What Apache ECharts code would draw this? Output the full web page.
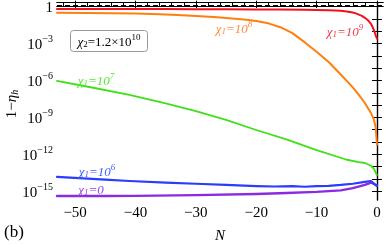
<!DOCTYPE html>
<html><head><meta charset="utf-8">
<script src="https://cdn.jsdelivr.net/npm/echarts@6/dist/echarts.min.js"></script>
<style>html,body{margin:0;padding:0;background:#fff}#c{width:385px;height:245px}</style>
</head><body><div id="c"></div>
<script>
// x = N, y = log10(1 - eta_h)
const xTicks = [-50, -40, -30, -20, -10, 0];
const xMinorTicks = [-52, -48, -46, -44, -42, -38, -36, -34, -32, -28, -26, -24, -22, -18, -16, -14, -12, -8, -6, -4, -2];
const yTicks = [0, -1, -2, -3, -4, -5, -6, -7, -8, -9, -10, -11, -12, -13, -14, -15];
const yLabelTicks = [0, -3, -6, -9, -12, -15];

const dashN = [-53, 1];
const dashLog = [0.08, 0.08];

const redN =   [-53, -45, -40, -35, -30, -25, -20, -16, -12, -10, -8, -7, -6, -5, -4.5, -4, -3.5, -3, -2.5, -2, -1.5, -1, -0.7, -0.4, -0.2, 0];
const redLog = [-0.184, -0.189, -0.194, -0.198, -0.203, -0.213, -0.223, -0.233, -0.252, -0.267, -0.291, -0.311, -0.340, -0.389, -0.428, -0.476, -0.545, -0.642, -0.750, -0.906, -1.101, -1.394, -1.667, -2.057, -2.350, -2.594];

const orangeN =   [-53, -48, -44, -40, -36, -33, -30, -27, -24, -22, -20, -18, -16, -14, -12, -10, -8, -6, -4, -3, -2, -1, -0.5, -0.2, 0];
const orangeLog = [-0.486, -0.506, -0.525, -0.554, -0.613, -0.681, -0.759, -0.847, -0.964, -1.052, -1.159, -1.355, -1.667, -2.154, -2.886, -3.667, -4.496, -5.520, -6.564, -7.179, -7.832, -8.642, -9.179, -9.862, -11.228];

const greenN =   [-53, -47, -41, -35, -30, -25, -20, -15, -10, -5, -3, -2, -1, -0.5, 0];
const greenLog = [-6.037, -6.593, -7.179, -7.862, -8.496, -9.208, -10.028, -10.789, -11.667, -12.447, -12.642, -12.711, -12.935, -13.179, -13.686];

const blueN =   [-53, -45, -41, -35, -30, -25, -20, -17, -14, -12, -10, -8, -6, -4, -2, -1, 0];
const blueLog = [-13.842, -14.057, -14.174, -14.301, -14.398, -14.496, -14.593, -14.622, -14.593, -14.642, -14.593, -14.564, -14.496, -14.398, -14.252, -14.174, -14.593];

const purpleN =   [-53, -45, -40, -30, -20, -15, -10, -6, -4, -2, -1, 0];
const purpleLog = [-15.393, -15.393, -15.384, -15.325, -15.228, -15.150, -15.062, -14.935, -14.759, -14.496, -14.301, -14.545];

function pairs(xs, ys) { return xs.map((x, i) => [x, ys[i]]); }

const serif = '"Liberation Serif", "DejaVu Serif", serif';
const chart = echarts.init(document.getElementById('c'), null, {renderer: 'canvas'});

function lineSeries(xs, ys, color, width) {
  return {type: 'line', data: pairs(xs, ys), symbol: 'none', smooth: false,
          lineStyle: {color: color, width: width, join: 'round', cap: 'round'}, silent: true, clip: true, z: 3};
}

const baseAxisLine = {show: true, lineStyle: {color: '#000', width: 1.2}};
const yMin = -15.72, yMax = 0.38;

function labelRich(color) {
  return {
    i: {fontFamily: serif, fontStyle: 'italic', fontSize: 13, color: color, lineHeight: 16, verticalAlign: 'bottom'},
    sub: {fontFamily: serif, fontStyle: 'italic', fontSize: 9, color: color, lineHeight: 9, verticalAlign: 'bottom'},
    n: {fontFamily: serif, fontStyle: 'italic', fontSize: 13, color: color, lineHeight: 16, verticalAlign: 'bottom'},
    sup: {fontFamily: serif, fontStyle: 'italic', fontSize: 9, color: color, lineHeight: 9, verticalAlign: 'top'}
  };
}
function annot(x, y, text, color) {
  return {type: 'text', x: x, y: y, z: 10,
    style: {text: text, rich: labelRich(color), align: 'center', verticalAlign: 'middle', fill: color}};
}

chart.setOption({
  animation: false,
  backgroundColor: '#fff',
  grid: {left: 57, right: 2, top: 2, bottom: 45, containLabel: false, outerBoundsMode: 'none', show: false},
  xAxis: [
    {type: 'value', position: 'bottom', min: -53, max: 1, axisLine: baseAxisLine,
     axisTick: {show: true, inside: true, length: 6, customValues: xTicks, lineStyle: {color: '#000', width: 1}},
     axisLabel: {show: true, customValues: xTicks, margin: 6, fontFamily: serif, fontSize: 15, color: '#000',
                 formatter: v => String(v).replace('-', '\u2212')},
     splitLine: {show: false}},
    {type: 'value', position: 'bottom', min: -53, max: 1, axisLine: baseAxisLine,
     axisTick: {show: true, inside: true, length: 3, customValues: xMinorTicks, lineStyle: {color: '#000', width: 1}},
     axisLabel: {show: false}, splitLine: {show: false}},
    {type: 'value', position: 'top', min: -53, max: 1, axisLine: baseAxisLine,
     axisTick: {show: true, inside: true, length: 6, customValues: xTicks, lineStyle: {color: '#000', width: 1}},
     axisLabel: {show: false}, splitLine: {show: false}},
    {type: 'value', position: 'top', min: -53, max: 1, axisLine: baseAxisLine,
     axisTick: {show: true, inside: true, length: 3, customValues: xMinorTicks, lineStyle: {color: '#000', width: 1}},
     axisLabel: {show: false}, splitLine: {show: false}}
  ],
  yAxis: [
    {type: 'value', position: 'left', min: yMin, max: yMax, axisLine: baseAxisLine,
     axisTick: {show: true, inside: true, length: 5, customValues: yTicks, lineStyle: {color: '#000', width: 1}},
     axisLabel: {show: true, customValues: yLabelTicks, margin: 4,
       formatter: v => v === 0 ? '{b|1}' : '{b|10}{s|\u2212' + (-v) + '}',
       rich: {
         b: {fontFamily: serif, fontSize: 15, color: '#000', lineHeight: 18, verticalAlign: 'bottom'},
         s: {fontFamily: serif, fontSize: 10, color: '#000', lineHeight: 10, verticalAlign: 'top'}
       }},
     splitLine: {show: false}},
    {type: 'value', position: 'right', min: yMin, max: yMax, axisLine: baseAxisLine,
     axisTick: {show: true, inside: true, length: 5, customValues: yTicks, lineStyle: {color: '#000', width: 1}},
     axisLabel: {show: false}, splitLine: {show: false}}
  ],
  series: [
    {type: 'line', data: pairs(dashN, dashLog), symbol: 'none', silent: true,
     lineStyle: {color: '#000', width: 1.5, type: [5, 3]}, z: 2},
    lineSeries(purpleN, purpleLog, '#8a2be2', 2.4),
    lineSeries(blueN, blueLog, '#2a3cff', 2.2),
    lineSeries(greenN, greenLog, '#3fe01a', 1.8),
    lineSeries(orangeN, orangeLog, '#ff7f0e', 2),
    lineSeries(redN, redLog, '#f2101e', 2)
  ],
  graphic: [
    {type: 'rect', shape: {x: 70.5, y: 30.5, width: 77, height: 21, r: 3}, z: 9,
     style: {fill: '#fff', stroke: '#999', lineWidth: 1}},
    {type: 'text', x: 109, y: 41.5, z: 10,
     style: {text: '{i|χ}{sub|2}{n|=1.2×10}{sup|10}', align: 'center', verticalAlign: 'middle',
       rich: {
         i: {fontFamily: serif, fontStyle: 'italic', fontSize: 13, fill: '#000', lineHeight: 16, verticalAlign: 'bottom'},
         sub: {fontFamily: serif, fontSize: 9, fill: '#000', lineHeight: 9, verticalAlign: 'bottom'},
         n: {fontFamily: serif, fontSize: 13, fill: '#000', lineHeight: 16, verticalAlign: 'bottom'},
         sup: {fontFamily: serif, fontSize: 9, fill: '#000', lineHeight: 9, verticalAlign: 'top'}
       }}},
    annot(345, 31, '{i|χ}{sub|1}{n|=10}{sup|9}', '#f03a4a'),
    annot(234, 28, '{i|χ}{sub|1}{n|=10}{sup|8}', '#ff8a3a'),
    annot(96, 80, '{i|χ}{sub|1}{n|=10}{sup|7}', '#55e830'),
    annot(97, 171, '{i|χ}{sub|1}{n|=10}{sup|6}', '#4060ff'),
    annot(91, 189, '{i|χ}{sub|1}{n|=0}', '#9a40ee'),
    {type: 'text', x: 220, y: 236, z: 10,
     style: {text: 'N', fontFamily: serif, fontStyle: 'italic', fontSize: 15, fill: '#000', align: 'center', verticalAlign: 'middle'}},
    {type: 'text', x: 14, y: 233, z: 10,
     style: {text: '(b)', fontFamily: serif, fontSize: 17, fill: '#000', align: 'center', verticalAlign: 'middle'}},
    {type: 'text', x: 11, y: 104, rotation: Math.PI / 2, z: 10,
     style: {text: '{n|1\u2212}{i|η}{sub|h}', align: 'center', verticalAlign: 'middle',
       rich: {
         n: {fontFamily: serif, fontSize: 15, fill: '#000', lineHeight: 18, verticalAlign: 'bottom'},
         i: {fontFamily: serif, fontStyle: 'italic', fontSize: 15, fill: '#000', lineHeight: 18, verticalAlign: 'bottom'},
         sub: {fontFamily: serif, fontStyle: 'italic', fontSize: 10, fill: '#000', lineHeight: 10, verticalAlign: 'bottom'}
       }}}
  ]
});
</script></body></html>
